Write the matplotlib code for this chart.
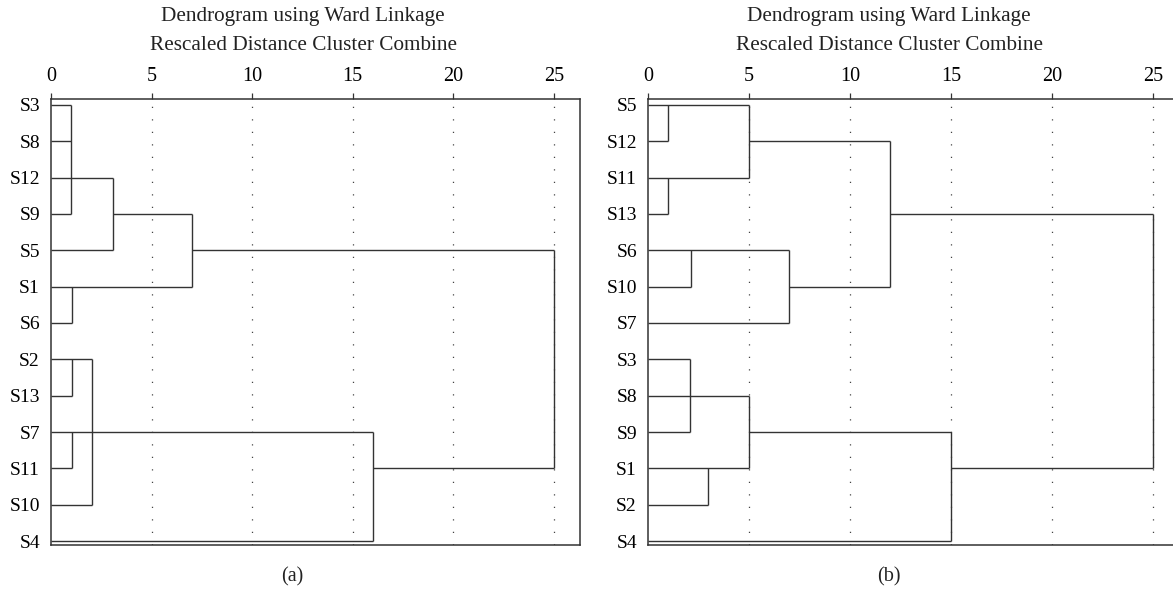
import matplotlib
matplotlib.use("Agg")
import matplotlib.pyplot as plt

plt.rcParams["font.family"] = ["Liberation Serif", "DejaVu Serif"]

# distance axis ticks (rescaled 0-25)
dist_ticks = [0, 5, 10, 15, 20, 25]
grid_ticks = [5, 10, 15, 20, 25]

# (a) leaf order, top to bottom
leaves_a = ["S3", "S8", "S12", "S9", "S5", "S1", "S6",
            "S2", "S13", "S7", "S11", "S10", "S4"]
# horizontal links: (row label, from distance, to distance)
horiz_a = [
    ("S3", 0, 1.0), ("S8", 0, 1.0), ("S12", 0, 3.1), ("S9", 0, 1.0),
    ("S9", 3.1, 7.0), ("S5", 0, 3.1), ("S5", 7.0, 25), ("S1", 0, 7.0),
    ("S6", 0, 1.05), ("S2", 0, 2.05), ("S13", 0, 1.03), ("S7", 0, 16),
    ("S11", 0, 1.06), ("S11", 16, 25), ("S10", 0, 2.05), ("S4", 0, 16),
]
# vertical links: (distance, top row label, bottom row label)
vert_a = [
    (1.0, "S3", "S9"), (3.1, "S12", "S5"), (7.0, "S9", "S1"),
    (1.05, "S1", "S6"), (25, "S5", "S11"), (1.03, "S2", "S13"),
    (2.05, "S2", "S10"), (1.06, "S7", "S11"), (16, "S7", "S4"),
]

# (b)
leaves_b = ["S5", "S12", "S11", "S13", "S6", "S10", "S7",
            "S3", "S8", "S9", "S1", "S2", "S4"]
horiz_b = [
    ("S5", 0, 5.0), ("S12", 0, 1.0), ("S12", 5.0, 12), ("S11", 0, 5.0),
    ("S13", 0, 1.0), ("S13", 12, 25), ("S6", 0, 7.0), ("S10", 0, 2.15),
    ("S10", 7.0, 12), ("S7", 0, 7.0), ("S3", 0, 2.08), ("S8", 0, 5.0),
    ("S9", 0, 2.08), ("S9", 5.0, 15), ("S1", 0, 5.0), ("S1", 15, 25),
    ("S2", 0, 2.95), ("S4", 0, 15),
]
vert_b = [
    (1.0, "S5", "S12"), (5.0, "S5", "S11"), (1.0, "S11", "S13"),
    (12, "S12", "S10"), (2.15, "S6", "S10"), (7.0, "S6", "S7"),
    (25, "S13", "S1"), (2.08, "S3", "S9"), (5.0, "S8", "S1"),
    (2.95, "S1", "S2"), (15, "S9", "S4"),
]

title1 = "Dendrogram using Ward Linkage"
title2 = "Rescaled Distance Cluster Combine"

INK = "#333333"
W, H = 1173, 590


def draw(ax, leaves, horiz, vert):
    row = {name: i for i, name in enumerate(leaves)}
    for x in grid_ticks:
        ax.axvline(x, color="#444444", lw=0.9, linestyle=(0, (1, 9)), zorder=1)
    for name, x0, x1 in horiz:
        ax.plot([x0, x1], [row[name], row[name]], color=INK, lw=1.0,
                solid_capstyle="butt", zorder=2)
    for x, top, bot in vert:
        ax.plot([x, x], [row[top], row[bot]], color=INK, lw=1.0,
                solid_capstyle="butt", zorder=2)
    ax.set_xlim(0, 26.3)
    ax.set_ylim(len(leaves) - 1 + 0.11, -0.165)
    ax.set_yticks(range(len(leaves)))
    ax.set_yticklabels(leaves)
    ax.set_xticks(dist_ticks)
    ax.xaxis.tick_top()
    ax.tick_params(axis="x", direction="out", length=4, width=0.9,
                   color=INK, pad=5.5, labelsize=14.5)
    ax.tick_params(axis="y", length=0, pad=8, labelsize=14)
    for s in ax.spines.values():
        s.set_color(INK)
        s.set_linewidth(1.1)


fig = plt.figure(figsize=(W / 100, H / 100), dpi=100)

ax_a = fig.add_axes([51 / W, 1 - 545 / H, (580 - 51) / W, (545 - 99) / H])
draw(ax_a, leaves_a, horiz_a, vert_a)

ax_b = fig.add_axes([648 / W, 1 - 545 / H, 531 / W, (545 - 99) / H])
draw(ax_b, leaves_b, horiz_b, vert_b)

for cx in [303, 889]:
    fig.text(cx / W, 1 - 17 / H, title1, ha="center", va="center", fontsize=15.3, color="#222222")
    fig.text(cx / W, 1 - 45 / H, title2, ha="center", va="center", fontsize=15.3, color="#222222")
fig.text(292 / W, 1 - 577 / H, "(a)", ha="center", va="center", fontsize=14.5, color="#222222")
fig.text(889 / W, 1 - 577 / H, "(b)", ha="center", va="center", fontsize=14.5, color="#222222")

fig.savefig("out.png", dpi=100)
